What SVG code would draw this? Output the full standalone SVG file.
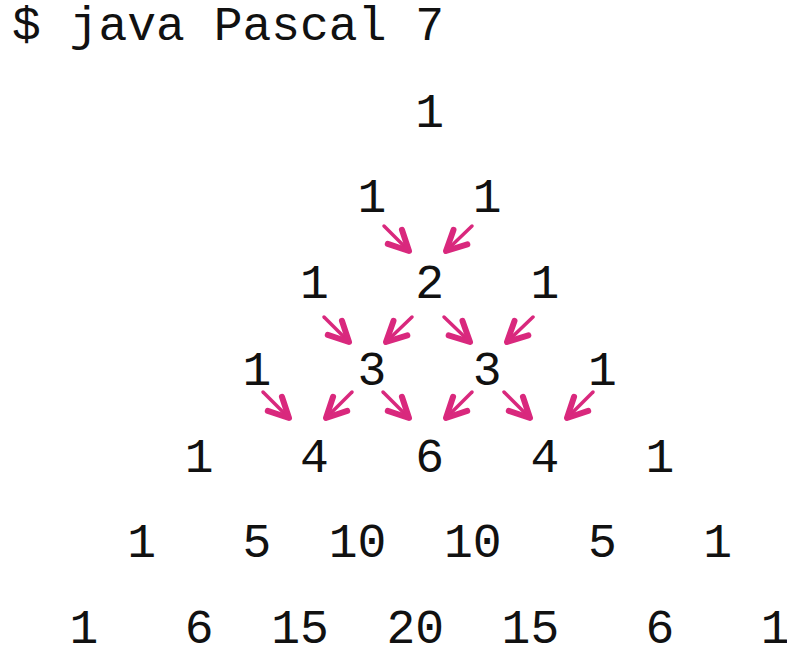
<svg xmlns="http://www.w3.org/2000/svg" width="787" height="647" viewBox="0 0 787 647">
  <style>
    text { font-family: "Liberation Mono", "Courier New", monospace; font-size: 48px; fill: #111; }
    .arrow { stroke: #d9287d; stroke-width: 3.5; stroke-linecap: round; fill: none; marker-end: url(#head); }
  </style>
  <defs>
    <marker id="head" markerUnits="userSpaceOnUse" markerWidth="40" markerHeight="40" viewBox="-30 -20 40 40" refX="0" refY="0" orient="auto" overflow="visible">
      <path d="M-20,-10 L0,0 L-20,10" fill="none" stroke="#d9287d" stroke-width="6" stroke-linecap="round" stroke-linejoin="round"/>
    </marker>
  </defs>

  <rect width="787" height="647" fill="#fff"/>

  <!-- command line -->
  <text id="cmd" x="12" y="40" xml:space="preserve">$ java Pascal 7</text>

  <!-- row 0 -->
  <g id="r0c14"><text x="415.2" y="127">1</text></g>
  <!-- row 1 -->
  <g id="r1c12"><text x="357.6" y="212">1</text></g>
  <g id="r1c16"><text x="472.8" y="212">1</text></g>
  <!-- row 2 -->
  <g id="r2c10"><text x="300" y="298">1</text></g>
  <g id="r2c14"><text x="415.2" y="298">2</text></g>
  <g id="r2c18"><text x="530.4" y="298">1</text></g>
  <!-- row 3 -->
  <g id="r3c8"><text x="242.4" y="385">1</text></g>
  <g id="r3c12"><text x="357.6" y="385">3</text></g>
  <g id="r3c16"><text x="472.8" y="385">3</text></g>
  <g id="r3c20"><text x="588" y="385">1</text></g>
  <!-- row 4 -->
  <g id="r4c6"><text x="184.8" y="472">1</text></g>
  <g id="r4c10"><text x="300" y="472">4</text></g>
  <g id="r4c14"><text x="415.2" y="472">6</text></g>
  <g id="r4c18"><text x="530.4" y="472">4</text></g>
  <g id="r4c22"><text x="645.6" y="472">1</text></g>
  <!-- row 5 -->
  <g id="r5c4"><text x="127.2" y="557">1</text></g>
  <g id="r5c8"><text x="242.4" y="557">5</text></g>
  <g id="r5c11"><text x="328.8" y="557">10</text></g>
  <g id="r5c15"><text x="444" y="557">10</text></g>
  <g id="r5c20"><text x="588" y="557">5</text></g>
  <g id="r5c24"><text x="703.2" y="557">1</text></g>
  <!-- row 6 -->
  <g id="r6c2"><text x="69.6" y="643">1</text></g>
  <g id="r6c6"><text x="184.8" y="643">6</text></g>
  <g id="r6c9"><text x="271.2" y="643">15</text></g>
  <g id="r6c13"><text x="386.4" y="643">20</text></g>
  <g id="r6c17"><text x="501.6" y="643">15</text></g>
  <g id="r6c22"><text x="645.6" y="643">6</text></g>
  <g id="r6c26"><text x="760.8" y="643">1</text></g>

  <!-- connectors: each entry is the sum of the two above it -->
  <g id="connectors">
    <line class="arrow" x1="384" y1="226" x2="409" y2="251"/>
    <line class="arrow" x1="472" y1="226" x2="446" y2="251"/>

    <line class="arrow" x1="324" y1="317" x2="349" y2="342"/>
    <line class="arrow" x1="412" y1="317" x2="386" y2="342"/>
    <line class="arrow" x1="444" y1="317" x2="470" y2="342"/>
    <line class="arrow" x1="533" y1="317" x2="507" y2="342"/>

    <line class="arrow" x1="263" y1="392" x2="289" y2="418"/>
    <line class="arrow" x1="352" y1="392" x2="326" y2="418"/>
    <line class="arrow" x1="383" y1="392" x2="409" y2="418"/>
    <line class="arrow" x1="472" y1="392" x2="446" y2="418"/>
    <line class="arrow" x1="504" y1="392" x2="530" y2="418"/>
    <line class="arrow" x1="593" y1="392" x2="567" y2="418"/>
  </g>
</svg>
